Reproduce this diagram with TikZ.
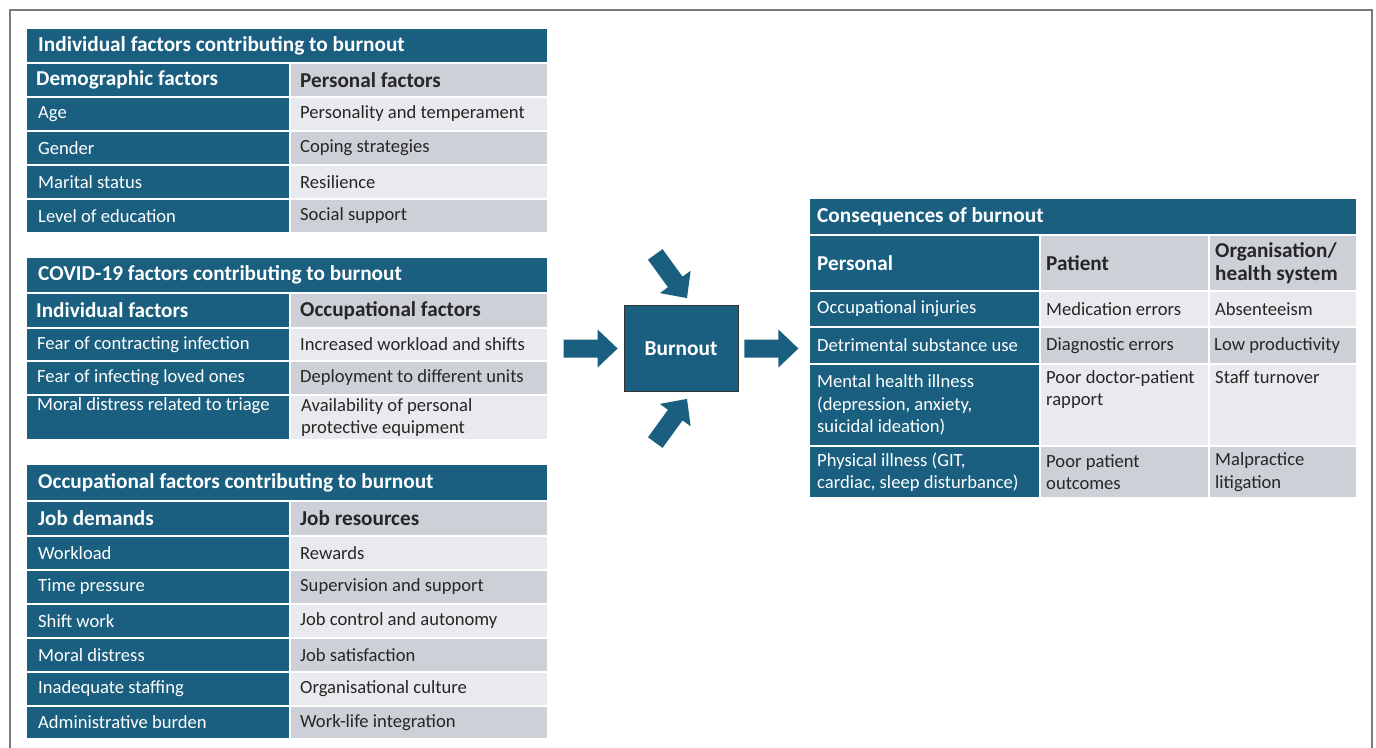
\documentclass[tikz,border=0pt]{standalone}
\usepackage{fontspec}
\setmainfont{Carlito}
\usetikzlibrary{calc}
\definecolor{tealc}{HTML}{1A5F80}
\definecolor{lightg}{HTML}{E8EAED}
\definecolor{midg}{HTML}{CDD1D7}
\definecolor{darktext}{HTML}{262626}
\definecolor{framec}{HTML}{7A7A7A}
\newcommand{\rowfont}{\fontsize{18.6}{22.5}\selectfont}
\newcommand{\headfont}{\fontsize{21.2}{22.5}\selectfont\bfseries}
\newcommand{\titlefont}{\fontsize{21.3}{22.5}\selectfont\bfseries}
% centred cell: name, x1, y1, x2, y2, fill style, text style, text, x offset
\newcommand{\cellc}[9]{%
  \path[#6] (#2,#3) rectangle (#4,#5);
  \node[#7, anchor=west] (#1) at ({#2+#9},{(#3+#5)/2}) {#8};}
\tikzset{
  dkfill/.style={fill=tealc, draw=white, line width=1.5pt},
  ltfill/.style={fill=lightg, draw=white, line width=1.5pt},
  mdfill/.style={fill=midg, draw=white, line width=1.5pt},
  wtxt/.style={text=white, font=\rowfont, inner sep=0pt, align=left},
  gtxt/.style={text=darktext, font=\rowfont, inner sep=0pt, align=left},
  whead/.style={text=white, font=\headfont, inner sep=0pt, align=left},
  ghead/.style={text=darktext, font=\headfont, inner sep=0pt, align=left},
  wtitle/.style={text=white, font=\titlefont, inner sep=0pt, align=left},
  burnbox/.style={fill=tealc, draw=black!80, line width=0.8pt, minimum width=114pt, minimum height=86pt, text=white, font=\fontsize{21.4}{24}\selectfont\bfseries},
  pics/fatarrow/.style={code={\fill[tealc] (0,0) -- (-20,19) -- (-20,9) -- (-54,9) -- (-54,-9) -- (-20,-9) -- (-20,-19) -- cycle;}}
}
\begin{document}
\begin{tikzpicture}[x=1pt,y=-1pt]
\useasboundingbox (0,0) rectangle (1376,747);
\clip (0,0) rectangle (1376,747);
\fill[white] (0,0) rectangle (1376,747);
\draw[framec, line width=1.3pt] (10,10) rectangle (1372,770);

% ---------- Table 1 ----------
\cellc{t1title}{26}{28}{548}{63}{dkfill}{wtitle}{Individual factors contributing to burnout}{12}
\cellc{t1hl}{26}{63}{290}{97}{dkfill}{whead}{Demographic factors}{10}
\cellc{t1hr}{290}{63}{548}{97}{mdfill}{ghead}{Personal factors}{10}
\cellc{t1l1}{26}{97}{290}{131}{dkfill}{wtxt}{Age}{12}
\cellc{t1r1}{290}{97}{548}{131}{ltfill}{gtxt}{Personality and temperament}{10}
\cellc{t1l2}{26}{131}{290}{165}{dkfill}{wtxt}{Gender}{12}
\cellc{t1r2}{290}{131}{548}{165}{mdfill}{gtxt}{Coping strategies}{10}
\cellc{t1l3}{26}{165}{290}{199}{dkfill}{wtxt}{Marital status}{12}
\cellc{t1r3}{290}{165}{548}{199}{ltfill}{gtxt}{Resilience}{10}
\cellc{t1l4}{26}{199}{290}{233}{dkfill}{wtxt}{Level of education}{12}
\cellc{t1r4}{290}{199}{548}{233}{mdfill}{gtxt}{Social support}{10}

% ---------- Table 2 ----------
\cellc{t2title}{26}{257}{548}{293}{dkfill}{wtitle}{COVID-19 factors contributing to burnout}{12}
\cellc{t2hl}{26}{293}{290}{328}{dkfill}{whead}{Individual factors}{10}
\cellc{t2hr}{290}{293}{548}{328}{mdfill}{ghead}{Occupational factors}{10}
\cellc{t2l1}{26}{328}{290}{361}{dkfill}{wtxt}{Fear of contracting infection}{11}
\cellc{t2r1}{290}{328}{548}{361}{ltfill}{gtxt}{Increased workload and shifts}{10}
\cellc{t2l2}{26}{361}{290}{395}{dkfill}{wtxt}{Fear of infecting loved ones}{11}
\cellc{t2r2}{290}{361}{548}{395}{mdfill}{gtxt}{Deployment to different units}{10}
\path[dkfill] (26,395) rectangle (290,440);
\node[wtxt, anchor=north west] (t2l3) at (37,397) {Moral distress related to triage};
\cellc{t2r3}{290}{395}{548}{440}{ltfill}{gtxt}{Availability of personal\\protective equipment}{11}

% ---------- Table 3 ----------
\cellc{t3title}{26}{464}{548}{501}{dkfill}{wtitle}{Occupational factors contributing to burnout}{12}
\cellc{t3hl}{26}{501}{290}{536}{dkfill}{whead}{Job demands}{12}
\cellc{t3hr}{290}{501}{548}{536}{mdfill}{ghead}{Job resources}{10}
\cellc{t3l1}{26}{536}{290}{570}{dkfill}{wtxt}{Workload}{12}
\cellc{t3r1}{290}{536}{548}{570}{ltfill}{gtxt}{Rewards}{10}
\cellc{t3l2}{26}{570}{290}{604}{dkfill}{wtxt}{Time pressure}{12}
\cellc{t3r2}{290}{570}{548}{604}{mdfill}{gtxt}{Supervision and support}{10}
\cellc{t3l3}{26}{604}{290}{638}{dkfill}{wtxt}{Shift work}{12}
\cellc{t3r3}{290}{604}{548}{638}{ltfill}{gtxt}{Job control and autonomy}{10}
\cellc{t3l4}{26}{638}{290}{672}{dkfill}{wtxt}{Moral distress}{12}
\cellc{t3r4}{290}{638}{548}{672}{mdfill}{gtxt}{Job satisfaction}{10}
\cellc{t3l5}{26}{672}{290}{706}{dkfill}{wtxt}{Inadequate staffing}{12}
\cellc{t3r5}{290}{672}{548}{706}{ltfill}{gtxt}{Organisational culture}{10}
\cellc{t3l6}{26}{706}{290}{739}{dkfill}{wtxt}{Administrative burden}{12}
\cellc{t3r6}{290}{706}{548}{739}{mdfill}{gtxt}{Work-life integration}{10}

% ---------- Burnout ----------
\node[burnbox] (burnout) at (681,348.5) {Burnout};
\pic at ($(burnout.west)+(-6,0)$) {fatarrow};
\pic at ($(burnout.east)+(60,0)$) {fatarrow};
\pic[rotate=-54] at ($(burnout.north)+(6,-7)$) {fatarrow};
\pic[rotate=54] at ($(burnout.south)+(6,7)$) {fatarrow};

% ---------- Consequences ----------
\cellc{ctitle}{809}{198}{1357}{235}{dkfill}{wtitle}{Consequences of burnout}{8}
\cellc{ch1}{809}{235}{1040}{291}{dkfill}{whead}{Personal}{8}
\cellc{ch2}{1040}{235}{1209}{291}{mdfill}{ghead}{Patient}{6}
\cellc{ch3}{1209}{235}{1357}{291}{mdfill}{ghead}{Organisation/\\health system}{6}
\cellc{c11}{809}{291}{1040}{327}{dkfill}{wtxt}{Occupational injuries}{8}
\cellc{c12}{1040}{291}{1209}{327}{ltfill}{gtxt}{Medication errors}{6}
\cellc{c13}{1209}{291}{1357}{327}{ltfill}{gtxt}{Absenteeism}{6}
\cellc{c21}{809}{327}{1040}{364}{dkfill}{wtxt}{Detrimental substance use}{8}
\cellc{c22}{1040}{327}{1209}{364}{mdfill}{gtxt}{Diagnostic errors}{6}
\cellc{c23}{1209}{327}{1357}{364}{mdfill}{gtxt}{Low productivity}{5}
\cellc{c31}{809}{364}{1040}{446}{dkfill}{wtxt}{Mental health illness\\(depression, anxiety,\\suicidal ideation)}{8}
\path[ltfill] (1040,364) rectangle (1209,446);
\node[gtxt, anchor=north west] (c32) at (1046,370) {Poor doctor-patient\\rapport};
\path[ltfill] (1209,364) rectangle (1357,446);
\node[gtxt, anchor=north west] (c33) at (1215,370) {Staff turnover};
\cellc{c41}{809}{446}{1040}{498}{dkfill}{wtxt}{Physical illness (GIT,\\cardiac, sleep disturbance)}{8}
\cellc{c42}{1040}{446}{1209}{498}{mdfill}{gtxt}{Poor patient\\outcomes}{6}
\cellc{c43}{1209}{446}{1357}{498}{mdfill}{gtxt}{Malpractice\\litigation}{6}
\end{tikzpicture}
\end{document}
